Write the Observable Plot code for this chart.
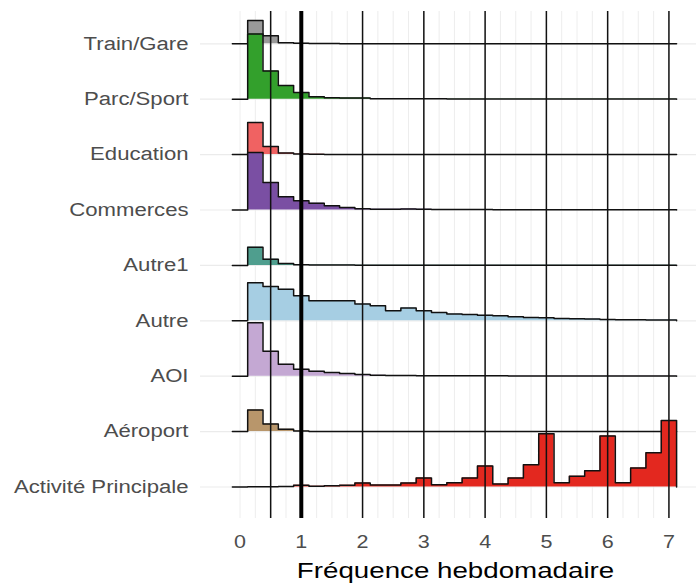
<!DOCTYPE html>
<html><head><meta charset="utf-8">
<script src="https://cdn.jsdelivr.net/npm/d3@7"></script>
<script src="https://cdn.jsdelivr.net/npm/@observablehq/plot@0.6"></script>
<style>body{margin:0;background:#fff}</style>
</head><body><div id="chart"></div>
<script>
// Categories from bottom to top
const categories = ["Activité Principale","Aéroport","AOI","Autre","Autre1","Commerces","Education","Parc/Sport","Train/Gare"];
const colors = ["#e3281f","#b8966b","#c4a8d3","#a6cee3","#4f9e8e","#7a4fa3","#f06262","#33a02c","#9a9a9a"];
// Histogram bin centres (bin width 0.25)
const binCenters = [0,0.25,0.5,0.75,1,1.25,1.5,1.75,2,2.25,2.5,2.75,3,3.25,3.5,3.75,4,4.25,4.5,4.75,5,5.25,5.5,5.75,6,6.25,6.5,6.75,7];
const binWidth = 0.25;
// Relative counts per bin (max = 100)
const activite  = [0,0.45,0.45,0.75,2.5,1,2,2.5,6,3,3,6,13.5,3.5,6.5,13.5,31.5,4.5,13.5,33.4,80,6.5,16,24.4,76.5,6.5,28.5,51.4,100];
const aeroport  = [0,32.5,11.5,3.5,0.75,0.2,0.1,0.1,0,0,0,0,0,0,0,0,0,0,0,0,0,0,0,0,0,0,0,0,0];
const aoi       = [0,80.2,37.5,18,10.5,7.5,5.5,4,2.5,1.5,1,0.9,0.75,0.6,0.6,0.5,0.5,0.5,0.4,0.4,0.4,0.3,0.3,0.3,0.3,0.3,0.2,0.2,0.2];
const autre     = [0,57.4,51.7,47.5,37.8,30,30,30,25.2,22.5,15,19.2,15,12.5,10.2,9.4,8.5,7.5,6,5,4.5,3.5,3,2.5,2,1.5,1.5,1.2,1];
const autre1    = [0,27.4,9.4,3,1,0.5,0.4,0.4,0.3,0.3,0.3,0.3,0.3,0.2,0.2,0.2,0.2,0.2,0.2,0.2,0.2,0.2,0.1,0.1,0.1,0.1,0.1,0.1,0.1];
const commerces = [0,86.4,41.4,20,14,10,6.4,3.9,2,1.2,1.1,1.5,1,0.6,0.8,0.8,0.8,0.5,0.5,0.4,0.4,0.3,0.3,0.3,0.3,0.2,0.2,0.2,0.2];
const education = [0,48.4,12,2.5,0.9,0.4,0.3,0.3,0.2,0.2,0.2,0.2,0.2,0.1,0.1,0.1,0.1,0.1,0.1,0.1,0.1,0,0,0,0,0,0,0,0];
const parcSport = [0,98,42.4,20.5,10.2,3.7,2,1.8,1.8,0.6,0.6,0.5,0.5,0.5,0.4,0.4,0.4,0.3,0.3,0.3,0.3,0.3,0.3,0.2,0.2,0.2,0.2,0.2,0.2];
const trainGare = [0,35,12,1.5,0.7,0.3,0.3,0.2,0.2,0.2,0.1,0.1,0.1,0.1,0.1,0.1,0.1,0,0,0,0,0,0,0,0,0,0,0,0];
const series = [activite, aeroport, aoi, autre, autre1, commerces, education, parcSport, trainGare];
const xTicks = [0,1,2,3,4,5,6,7];
const refLines = [0.5,2,3,4,5,6,7];
const boldLine = [1];
const xLabel = "Fréquence hebdomadaire";
const ridgeScale = 1.2; // height of max bin relative to row spacing

function ridgeData(i) {
  const vals = series[i];
  const pts = binCenters.map((c, j) => ({x: c - binWidth / 2, y1: i, y2: i + vals[j] / 100 * ridgeScale}));
  pts.push({x: binCenters[binCenters.length - 1] + binWidth / 2, y1: i, y2: i});
  return pts;
}

const ridgeMarks = [];
for (let i = categories.length - 1; i >= 0; i--) {
  const d = ridgeData(i);
  ridgeMarks.push(Plot.areaY(d, {x: "x", y1: "y1", y2: "y2", curve: "step-after", fill: colors[i]}));
  ridgeMarks.push(Plot.lineY(d, {x: "x", y: "y2", curve: "step-after", stroke: "#111", strokeWidth: 1.5}));
}

const rows = categories.map((c, i) => i);

const plot = Plot.plot({
  width: 696, height: 587,
  marginLeft: 200, marginRight: 0, marginTop: 11, marginBottom: 69,
  style: {fontFamily: "'Liberation Sans', Arial, sans-serif", background: "#fff"},
  x: {domain: [-0.645, 7.45], axis: null},
  y: {domain: [-0.569, 8.583], axis: null},
  marks: [
    Plot.ruleX(binCenters, {stroke: "#ebebeb", strokeWidth: 0.9}),
    Plot.ruleY(rows, {stroke: "#ebebeb", strokeWidth: 1.2}),
    ...ridgeMarks,
    Plot.ruleX(refLines, {stroke: "#111", strokeWidth: 1.5}),
    Plot.ruleX(boldLine, {stroke: "#000", strokeWidth: 4}),
    Plot.axisY(rows, {tickSize: 0, tickPadding: 12, tickFormat: i => categories[i], fontSize: 18, color: "#4d4d4d", label: null}),
    Plot.axisX(xTicks, {tickSize: 0, tickPadding: 17, fontSize: 17.5, color: "#4d4d4d", label: null}),
    Plot.text([xLabel], {text: d => d, frameAnchor: "bottom", lineAnchor: "bottom", dy: 59, dx: 7, fontSize: 22, fill: "#000"})
  ]
});
document.getElementById("chart").appendChild(plot);

function stretch(sel, s) {
  plot.querySelectorAll(sel).forEach(t => {
    const tr = t.getAttribute("transform") || "";
    const x = parseFloat(t.getAttribute("x")) || 0;
    t.setAttribute("transform", `${tr} translate(${x},0) scale(${s},1) translate(${-x},0)`);
  });
}
stretch('g[aria-label="y-axis tick label"] text', 1.23);
stretch('g[aria-label="x-axis tick label"] text', 1.23);
stretch('g[aria-label="text"] text', 1.26);
</script>
</body></html>
